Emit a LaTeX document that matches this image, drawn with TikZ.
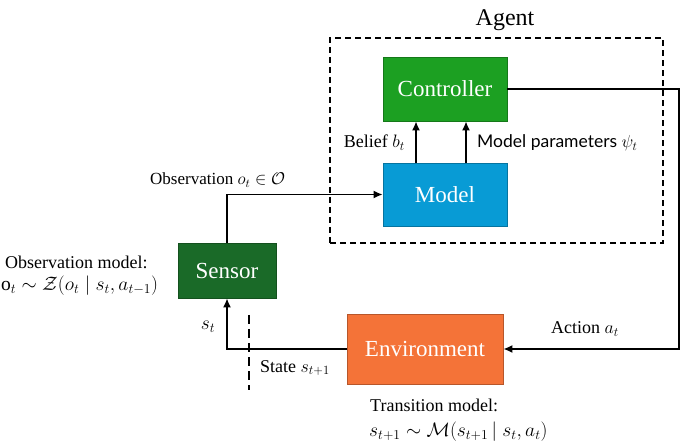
\RequirePackage{fix-cm}
\documentclass[tikz,border=0pt]{standalone}
\usepackage{fontspec}
\setmainfont{Liberation Serif}
\newfontfamily\labsans{Lato}
\usetikzlibrary{arrows.meta}
\definecolor{ctrlgreen}{RGB}{28,160,34}
\definecolor{modelblue}{RGB}{8,155,213}
\definecolor{sensorgreen}{RGB}{26,106,40}
\definecolor{envorange}{RGB}{244,115,56}
\begin{document}
\begin{tikzpicture}[x=1pt,y=-1pt,
  box/.style={draw=#1!75!black, line width=0.8pt, fill=#1, text=white,
    font=\fontsize{23}{26}\selectfont, minimum width=124pt, minimum height=64pt, inner sep=0pt},
  conn/.style={line width=1.5pt, -{Latex[length=9pt,width=8pt]}},
  lab/.style={font=\fontsize{18}{21}\selectfont, inner sep=0pt},
  mathlab/.style={font=\fontsize{19.5}{23}\selectfont, inner sep=0pt},
  smalllab/.style={font=\fontsize{17}{20}\selectfont, inner sep=0pt}]
\useasboundingbox[fill=white] (0,0) rectangle (680,446);

% agent box
\node[draw, line width=1.6pt, dash pattern=on 6pt off 4pt, minimum width=333pt, minimum height=205pt, inner sep=0pt] (agent) at (496.5,140.5) {};
\node[font=\fontsize{24}{28}\selectfont, inner sep=0pt] (agentlab) at (505,20) {Agent};

% blocks
\node[box=ctrlgreen] (ctrl) at (445,89) {Controller};
\node[box=modelblue, minimum height=63pt] (model) at (445,194.5) {Model};
\node[box=sensorgreen, minimum width=98pt, minimum height=55pt] (sensor) at (227,270.5) {Sensor};
\node[box=envorange, minimum width=156pt, minimum height=70pt] (env) at (425,349) {Environment};

% connectors
\coordinate (tr) at (679,89);
\draw[conn] (ctrl.east) -- (tr) |- (env.east);
\draw[conn] ([xshift=-29pt]model.north) -- ([xshift=-29pt]ctrl.south);
\draw[conn] ([xshift=21pt]model.north) -- ([xshift=21pt]ctrl.south);
\draw[conn] (sensor.north) |- (model.west);
\draw[conn] (env.west) -| (sensor.south);

\coordinate (d1) at (249,315);
\coordinate (d2) at (249,390);
\draw[line width=1.5pt, dash pattern=on 9pt off 5pt] (d1) -- (d2);

% labels
\node[lab, anchor=east] (belief) at (405,143) {Belief $b_t$};
\node[lab, anchor=west, font=\labsans\fontsize{17.5}{20}\selectfont] (params) at (477,143) {Model parameters $\psi_t$};
\node[smalllab, anchor=west] (obs) at (150,180) {Observation $o_t \in \mathcal{O}$};
\node[lab, anchor=west] (obsm1) at (5,262) {Observation model:};
\node[mathlab, anchor=west] (obsm2) at (1,286) {$\mathrm{o}_t \sim \mathcal{Z}(o_t \mid s_t, a_{t-1})$};
\node[mathlab] (st) at (208,327) {$s_t$};
\node[lab, anchor=west] (state) at (260,368) {State $s_{t+1}$};
\node[lab] (action) at (585,329) {Action $a_t$};
\node[lab, anchor=west] (tm1) at (370,405) {Transition model:};
\node[mathlab, anchor=west] (tm2) at (369,432) {$s_{t+1} \sim \mathcal{M}(s_{t+1}\,|\; s_t, a_t)$};
\end{tikzpicture}
\end{document}
